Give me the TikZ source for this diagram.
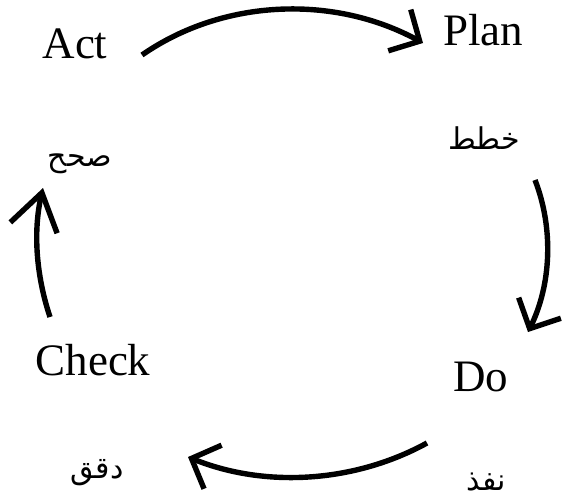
\documentclass[tikz,border=0pt]{standalone}
\usepackage{fontspec}
\setmainfont{Liberation Serif}
\newfontfamily\arabicfont[Script=Arabic]{DejaVu Sans}
\TeXXeTstate=1
\usetikzlibrary{arrows.meta}
\tikzset{
  L/.style={font=\fontsize{22.5}{27}\selectfont, inner sep=0pt, anchor=base},
  R/.style={font=\arabicfont\fontsize{15}{18}\selectfont, inner sep=0pt},
  a/.style={line width=2.7pt, -{Straight Barb[length=11.5pt, width=23.5pt]}},
}

\begin{document}
\begin{tikzpicture}[x=0.5pt, y=-0.5pt]
\useasboundingbox (0,0) rectangle (563,499);

% ═══════════════════════════════════════════════════════════════
% STAGES — English name with Arabic word below
% ═══════════════════════════════════════════════════════════════
\node[L] (act)   at (75,58)   {Act};
\node[L] (plan)  at (483,45)  {Plan};
\node[L] (do)    at (481,391) {Do};
\node[L] (check) at (93,375)  {Check};

\node[R] (act-ar)   at (80,164)  {\beginR صحح\endR};
\node[R] (plan-ar)  at (484,138) {\beginR خطط\endR};
\node[R] (do-ar)    at (486,482) {\beginR نفذ\endR};
\node[R] (check-ar) at (97,473)  {\beginR دقق\endR};

% ═══════════════════════════════════════════════════════════════
% CYCLE ARCS
% ═══════════════════════════════════════════════════════════════
\coordinate (act-out)   at (142,55);
\coordinate (plan-in)   at (423,43);
\coordinate (plan-out)  at (535,180);
\coordinate (do-in)     at (528,332);
\coordinate (do-out)    at (427,443);
\coordinate (check-in)  at (188,457);
\coordinate (check-out) at (50,317);
\coordinate (act-in)    at (43,188);

% Act -> Plan
\draw[a] (act-out) .. controls (224,-2) and (335,-5) .. (plan-in);
% Plan -> Do
\draw[a] (plan-out) .. controls (554,229) and (551,285) .. (do-in);
% Do -> Check
\draw[a] (do-out) .. controls (354,483) and (265,488) .. (check-in);
% Check -> Act
\draw[a, -{Straight Barb[length=18pt, width=24pt]}]
  (check-out) .. controls (36,275) and (33,231) .. (act-in);

\end{tikzpicture}
\end{document}
